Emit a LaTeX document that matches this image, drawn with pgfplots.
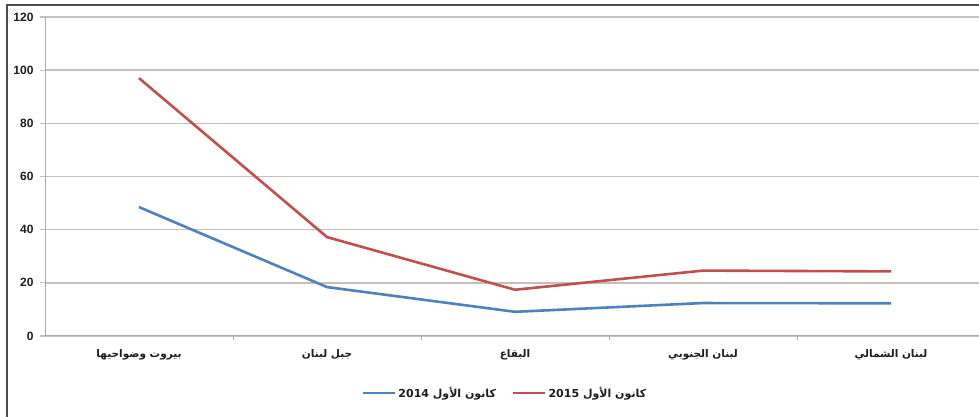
\documentclass[border=0pt]{standalone}
\usepackage{fontspec}
\setmainfont{Liberation Sans}
\newfontfamily\arabicfont[Script=Arabic]{DejaVu Sans}
\TeXXeTstate=1
\usepackage{pgfplots}
\pgfplotsset{compat=1.18}
\definecolor{serred}{RGB}{192,80,77}
\definecolor{serblue}{RGB}{79,129,189}
\definecolor{gridc}{RGB}{200,190,186}
\definecolor{axc}{RGB}{175,170,168}
\definecolor{txt}{RGB}{30,30,30}

\begin{document}
\begin{tikzpicture}
\useasboundingbox (0,0) rectangle (979bp,417bp);
\fill[white] (0,0) rectangle (979bp,417bp);
\draw[line width=1.5bp, black!70] (7bp,0) -- (7bp,412bp) -- (979bp,412bp);
\begin{axis}[
    at={(45bp,81bp)}, anchor=south west,
    scale only axis,
    width=934bp, height=319bp,
    xmin=-0.5, xmax=4.468,
    ymin=0, ymax=120,
    ytick={0,20,...,120},
    xtick={0,1,2,3,4},
    xticklabels={
      {\arabicfont\bfseries\beginR بيروت وضواحيها\endR},
      {\arabicfont\bfseries\beginR جبل لبنان\endR},
      {\arabicfont\bfseries\beginR البقاع\endR},
      {\arabicfont\bfseries\beginR لبنان الجنوبي\endR},
      {\arabicfont\bfseries\beginR لبنان الشمالي\endR}},
    minor xtick={0.5,1.5,2.5,3.5},
    major x tick style={draw=none},
    minor x tick style={axc, line width=1bp},
    minor tick length=4bp,
    major tick length=5bp,
    tick align=outside,
    ytick style={gridc, line width=1.2bp},
    axis x line*=bottom,
    axis y line*=left,
    axis line style={axc, line width=1bp, -},
    ymajorgrids,
    grid style={gridc, line width=1.4bp},
    /pgf/number format/assume math mode=true,
    yticklabel style={font=\fontsize{12bp}{14bp}\selectfont\bfseries, text=txt, xshift=-3bp},
    xticklabel style={font=\fontsize{10.5bp}{12bp}\selectfont, text=txt, yshift=-5bp},
    legend columns=2,
    legend style={at={(0.4925,-0.179)}, anchor=center, draw=none, fill=none,
        font=\fontsize{11bp}{13bp}\selectfont, text=txt,
        /tikz/every even column/.append style={column sep=14bp}},
    legend cell align=left,
    legend image code/.code={\draw[#1] (0bp,0bp) -- (32bp,0bp);},
    line join=round,
]
\addplot[serblue, line width=2.6bp] coordinates {(0,48.5) (1,18.4) (2,9.1) (3,12.4) (4,12.3)};
\addlegendentry{\arabicfont\bfseries\beginR كانون الأول \beginL 2014\endL\endR}
\addplot[serred, line width=2.6bp] coordinates {(0,97) (1,37.2) (2,17.4) (3,24.6) (4,24.3)};
\addlegendentry{\arabicfont\bfseries\beginR كانون الأول \beginL 2015\endL\endR}
\end{axis}
\end{tikzpicture}
\end{document}
